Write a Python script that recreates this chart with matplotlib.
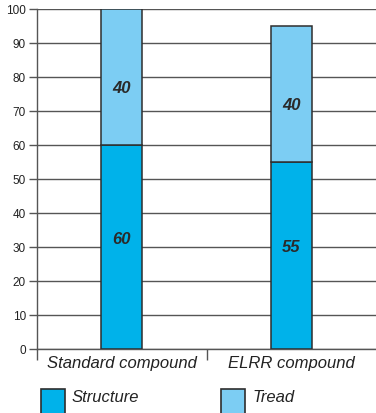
import matplotlib.pyplot as plt
from matplotlib.patches import Rectangle

categories = ['Standard compound', 'ELRR compound']
structure = [60, 55]
tread = [40, 40]
series_names = ['Structure', 'Tread']

c_struct = '#00b2ea'
c_tread = '#7ccdf3'
edge = '#2e2e2e'
grid = '#555555'

plt.rcParams['font.family'] = ['Liberation Sans', 'DejaVu Sans']

fig = plt.figure(figsize=(3.76, 4.14), dpi=100)
ax = fig.add_axes([37 / 376, 1 - 350 / 414, 339 / 376, 340 / 414])

x = [0.5, 1.5]
w = 0.24
ax.bar(x, structure, w, color=c_struct, edgecolor=edge, linewidth=1.1, zorder=3)
ax.bar(x, tread, w, bottom=structure, color=c_tread, edgecolor=edge, linewidth=1.1, zorder=3)

for xi, s, t in zip(x, structure, tread):
    ax.text(xi, s / 2 + 2.5, str(s), ha='center', va='center', fontsize=12,
            fontweight='bold', fontstyle='italic', color='#2a2a2a', zorder=4)
    ax.text(xi, s + t / 2 - 3, str(t), ha='center', va='center', fontsize=12,
            fontweight='bold', fontstyle='italic', color='#2a2a2a', zorder=4)

ax.set_xlim(0, 2)
ax.set_ylim(0, 100)
ax.set_yticks(range(0, 101, 10))
ax.yaxis.grid(True, color=grid, linewidth=1.0)
ax.set_axisbelow(True)
ax.tick_params(axis='y', length=6, width=1, color=grid, labelsize=8.5, pad=2, labelcolor='#222222')

ax.set_xticks([0, 1])
ax.set_xticklabels([])
ax.set_xticks(x, minor=True)
ax.set_xticklabels(categories, minor=True, fontsize=12, fontstyle='italic', color='#222222')
ax.tick_params(axis='x', which='major', length=8, width=1, color=grid)
ax.tick_params(axis='x', which='minor', length=0, pad=4)

for side in ['top', 'right']:
    ax.spines[side].set_visible(False)
ax.spines['left'].set_color(grid)
ax.spines['bottom'].set_color(grid)
ax.spines['left'].set_linewidth(1)
ax.spines['bottom'].set_linewidth(1)

# legend drawn by hand below the axes
for lx, tx, col, name in [(41, 72, c_struct, series_names[0]), (221, 253, c_tread, series_names[1])]:
    fig.add_artist(Rectangle((lx / 376, -0.005), 24 / 376, 0.062, transform=fig.transFigure,
                             facecolor=col, edgecolor=edge, linewidth=1.2))
    fig.text(tx / 376, 1 - 398 / 414, name, fontsize=12, fontstyle='italic',
             color='#222222', va='center', ha='left')

fig.savefig('out.png', dpi=100)
